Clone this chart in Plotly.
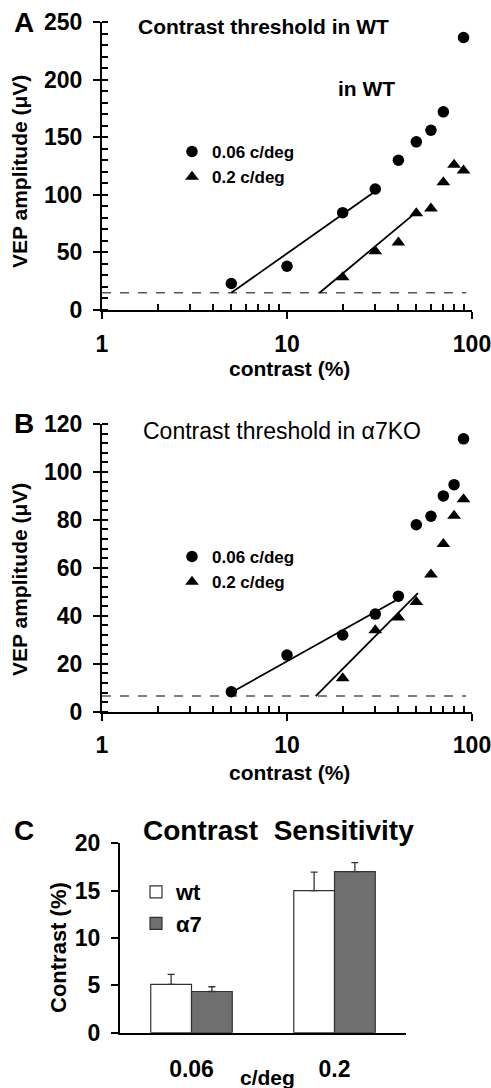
import plotly.graph_objects as go

# ---------------- data ----------------
# Panel A (WT)
a_circ_x = [5, 10, 20, 30, 40, 50, 60, 70, 90]
a_circ_y = [23, 38, 84.5, 105, 130, 146, 156, 172, 236.5]
a_tri_x = [20, 30, 40, 50, 60, 70, 80, 90]
a_tri_y = [28.5, 51, 58.5, 84, 88, 111, 126, 121]
a_fit_circ_x = [5, 30]
a_fit_circ_y = [15, 103]
a_fit_tri_x = [15, 50]
a_fit_tri_y = [15, 85]
a_thresh_x = [1, 93]
a_thresh_y = [15, 15]

# Panel B (a7KO)
b_circ_x = [5, 10, 20, 30, 40, 50, 60, 70, 80, 90]
b_circ_y = [8.3, 23.6, 32, 40.7, 48.2, 78, 81.5, 90, 94.7, 113.8]
b_tri_x = [20, 30, 40, 50, 60, 70, 80, 90]
b_tri_y = [13.9, 34, 39.3, 45.8, 57.2, 70, 81.7, 88.6]
b_fit_circ_x = [5, 40]
b_fit_circ_y = [8, 47]
b_fit_tri_x = [14.3, 51]
b_fit_tri_y = [6.5, 49.5]
b_thresh_x = [1, 93]
b_thresh_y = [6.5, 6.5]

# Panel C
c_categories = ["0.06", "0.2"]
c_wt = [5.1, 15.0]
c_wt_err = [1.05, 1.95]
c_a7 = [4.35, 17.0]
c_a7_err = [0.5, 0.95]

x_ticks = [1, 10, 100]
x_minor = [2, 3, 4, 5, 6, 7, 8, 9, 20, 30, 40, 50, 60, 70, 80, 90]

# ---------------- figure ----------------
W, H = 491, 1088
FONT = "Liberation Sans"


def px_x(p):
    return p / W


def px_y(p):
    return 1 - p / H


fig = go.Figure()

marker_line = dict(color="black", width=1.8)
dash_line = dict(color="#555555", width=1.5, dash="dash")


def add_scatter_panel(xa, ya, leg, cx, cy, tx, ty, fcx, fcy, ftx, fty, thx, thy):
    fig.add_trace(go.Scatter(x=thx, y=thy, mode="lines", line=dash_line,
                             xaxis=xa, yaxis=ya, showlegend=False, hoverinfo="skip"))
    fig.add_trace(go.Scatter(x=fcx, y=fcy, mode="lines", line=marker_line,
                             xaxis=xa, yaxis=ya, showlegend=False))
    fig.add_trace(go.Scatter(x=ftx, y=fty, mode="lines", line=marker_line,
                             xaxis=xa, yaxis=ya, showlegend=False))
    fig.add_trace(go.Scatter(x=cx, y=cy, mode="markers", name="0.06 c/deg",
                             marker=dict(symbol="circle", size=11.5, color="black"),
                             xaxis=xa, yaxis=ya, legend=leg))
    fig.add_trace(go.Scatter(x=tx, y=ty, mode="markers", name="0.2 c/deg",
                             marker=dict(symbol="triangle-up", size=12, color="black"),
                             xaxis=xa, yaxis=ya, legend=leg))


add_scatter_panel("x", "y", "legend", a_circ_x, a_circ_y, a_tri_x, a_tri_y,
                  a_fit_circ_x, a_fit_circ_y, a_fit_tri_x, a_fit_tri_y, a_thresh_x, a_thresh_y)
add_scatter_panel("x2", "y2", "legend2", b_circ_x, b_circ_y, b_tri_x, b_tri_y,
                  b_fit_circ_x, b_fit_circ_y, b_fit_tri_x, b_fit_tri_y, b_thresh_x, b_thresh_y)

fig.add_trace(go.Bar(x=c_categories, y=c_wt, name="wt", xaxis="x3", yaxis="y3",
                     marker=dict(color="white", line=dict(color="#333333", width=1.2)),
                     error_y=dict(type="data", array=c_wt_err, symmetric=False,
                                  arrayminus=[0, 0], color="#333333", thickness=1.3, width=3.5),
                     legend="legend3"))
fig.add_trace(go.Bar(x=c_categories, y=c_a7, name="α7", xaxis="x3", yaxis="y3",
                     marker=dict(color="#6f6f6f", line=dict(color="#333333", width=1.2)),
                     error_y=dict(type="data", array=c_a7_err, symmetric=False,
                                  arrayminus=[0, 0], color="#333333", thickness=1.3, width=3.5),
                     legend="legend3"))

tick_font = dict(family=FONT, size=23, color="black", weight="bold")

log_axis = dict(type="log", range=[0, 2], showline=True, linecolor="black", linewidth=2,
                showgrid=False, zeroline=False, ticks="outside", ticklen=7, tickwidth=2,
                tickcolor="black", tickvals=x_ticks, ticktext=[str(v) for v in x_ticks],
                tickfont=tick_font, ticklabelstandoff=5, automargin=False,
                ticklabeloverflow="allow",
                minor=dict(tickvals=x_minor, ticks="inside", ticklen=6, tickwidth=1.5,
                           tickcolor="black", showgrid=False))


def lin_y(rng, dt, mdt):
    return dict(range=rng, showline=True, linecolor="black", linewidth=2, showgrid=False,
                zeroline=False, ticks="outside", ticklen=7, tickwidth=2, tickcolor="black",
                dtick=dt, tick0=0, tickfont=tick_font, ticklabelstandoff=6, automargin=False,
                ticklabeloverflow="allow",
                minor=dict(dtick=mdt, tick0=0, ticks="inside", ticklen=6, tickwidth=1.5,
                           tickcolor="black", showgrid=False))


xdom = [px_x(102), px_x(472)]
fig.update_layout(
    template="none",
    width=W, height=H, margin=dict(l=0, r=0, t=0, b=0, autoexpand=False),
    plot_bgcolor="white", paper_bgcolor="white",
    font=dict(family=FONT, color="black"),
    barmode="group", bargap=0.43, bargroupgap=0,
    xaxis=dict(domain=xdom, anchor="y", **log_axis),
    yaxis=dict(domain=[px_y(310), px_y(22)], anchor="x", **lin_y([0, 250], 50, 10)),
    xaxis2=dict(domain=xdom, anchor="y2", **log_axis),
    yaxis2=dict(domain=[px_y(711.7), px_y(424)], anchor="x2", **lin_y([0, 120], 20, 4)),
    xaxis3=dict(domain=[px_x(120), px_x(406)], anchor="y3", type="category",
                range=[-0.5, 1.5], showline=True, linecolor="black", linewidth=2,
                showgrid=False, ticks="", tickfont=tick_font, ticklabelstandoff=15,
                automargin=False, ticklabeloverflow="allow"),
    yaxis3=dict(domain=[px_y(1032.7), px_y(843.3)], anchor="x3", range=[0, 20],
                showline=True, linecolor="black", linewidth=2, showgrid=False,
                zeroline=False, ticks="outside", ticklen=7, tickwidth=1.5,
                tickcolor="black", dtick=5, tickfont=tick_font, ticklabelstandoff=6,
                automargin=False, ticklabeloverflow="allow"),
    legend=dict(x=px_x(172), y=px_y(134), xanchor="left", yanchor="top",
                bgcolor="rgba(0,0,0,0)", itemwidth=30,
                font=dict(family=FONT, size=17, weight="bold")),
    legend2=dict(x=px_x(172), y=px_y(539), xanchor="left", yanchor="top",
                 bgcolor="rgba(0,0,0,0)", itemwidth=30,
                 font=dict(family=FONT, size=17, weight="bold")),
    legend3=dict(x=px_x(136), y=px_y(871), xanchor="left", yanchor="top",
                 bgcolor="rgba(0,0,0,0)", itemwidth=30,
                 font=dict(family=FONT, size=22, weight="bold")),
)


def ann(text, x, y, size, weight="bold", angle=0, xanchor="center"):
    fig.add_annotation(text=text, x=px_x(x), y=px_y(y), xref="paper", yref="paper",
                       showarrow=False, xanchor=xanchor, yanchor="middle", textangle=angle,
                       font=dict(family=FONT, size=size, color="black", weight=weight))


# panel letters
ann("A", 24, 23, 28)
ann("B", 24, 424, 28)
ann("C", 24, 830, 28)
# titles
ann("Contrast threshold in WT", 263, 27, 21)
ann("in WT", 366, 89, 21)
ann("Contrast threshold in α7KO", 282, 431, 23, weight="normal")
ann("Contrast  Sensitivity", 278, 830, 28)
# axis titles
ann("VEP amplitude (μV)", 19, 172, 21, angle=-90)
ann("VEP amplitude (μV)", 19, 580, 21, angle=-90)
ann("contrast (%)", 289, 369, 21)
ann("contrast (%)", 289, 772, 21)
ann("Contrast (%)", 58, 948, 22, angle=-90)
ann("c/deg", 267, 1077, 21)

fig.write_html("out.html", config={"displayModeBar": False},
               post_script="document.body.style.margin='0';document.body.style.overflow='hidden';")
